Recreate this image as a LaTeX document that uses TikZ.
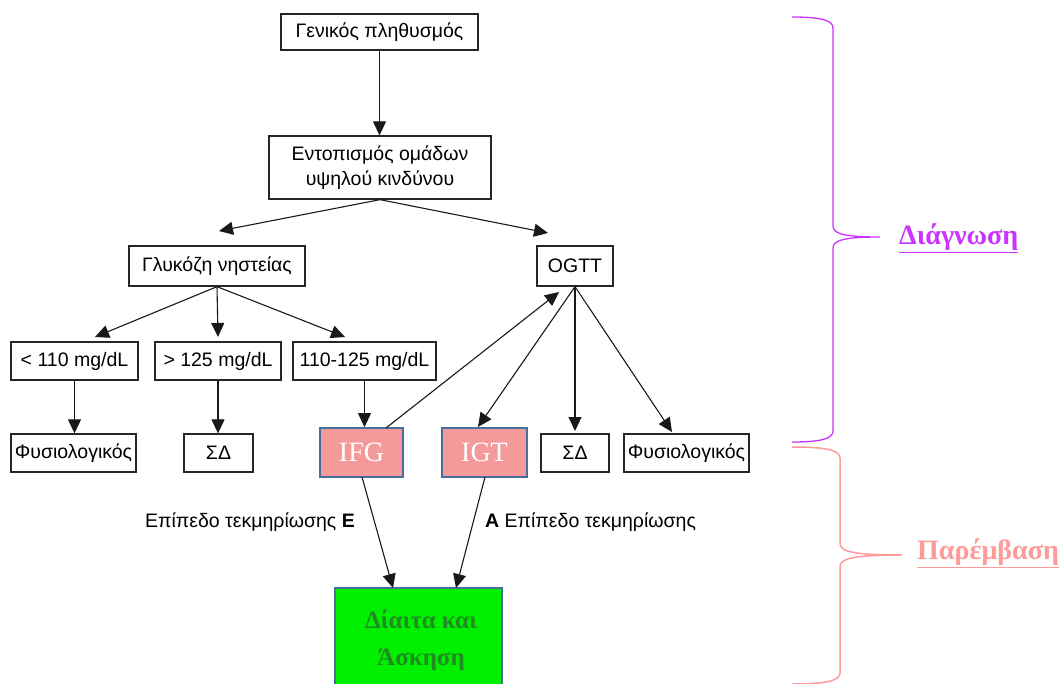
\documentclass[tikz,border=0pt]{standalone}
\usepackage{fontspec}
\setmainfont{Liberation Sans}
\newfontfamily\serifgr{Liberation Serif}
\usetikzlibrary{arrows.meta}
\definecolor{pinkfill}{HTML}{F59A9A}
\definecolor{edgeblue}{HTML}{4A6E9C}
\definecolor{greenfill}{HTML}{00F000}
\definecolor{greentext}{HTML}{1E8C1E}
\definecolor{purplebr}{HTML}{CC33FF}
\definecolor{pinkbr}{HTML}{FF9A9A}
\tikzset{
  box/.style={draw=black!85, line width=1.3pt, inner sep=0pt, align=center, font=\fontsize{19.5}{24}\selectfont},
  hl/.style={draw=edgeblue, line width=1.8pt, fill=pinkfill, inner sep=0pt, text=white, font=\serifgr\fontsize{28}{32}\selectfont},
  arr/.style={line width=1.1pt, black!90, -{Triangle[length=14pt,width=13pt]}},
  lbl/.style={inner sep=0pt, font=\fontsize{19.5}{24}\selectfont},
}
\begin{document}
\begin{tikzpicture}[x=1pt,y=-1pt]
\useasboundingbox (0,0) rectangle (1059,684);
\fill[white] (0,0) rectangle (1059,684);
% nodes
\node[box, minimum width=197, minimum height=36] (g) at (379.5,32) {Γενικός πληθυσμός};
\node[box, minimum width=222, minimum height=63] (e) at (380,167.5) {Εντοπισμός ομάδων\\[1pt]υψηλού κινδύνου};
\node[box, minimum width=176, minimum height=40] (gl) at (217,266) {Γλυκόζη νηστείας};
\node[box, minimum width=76, minimum height=40] (o) at (575,266) {OGTT};
\node[box, minimum width=127, minimum height=38] (r1) at (74.5,361) {< 110 mg/dL};
\node[box, minimum width=126, minimum height=38] (r2) at (218,361) {> 125 mg/dL};
\node[box, minimum width=143, minimum height=38] (r3) at (364.5,361) {110-125 mg/dL};
\node[box, minimum width=125, minimum height=38] (f1) at (73.5,453) {Φυσιολογικός};
\node[box, minimum width=69, minimum height=38] (s1) at (218.5,453) {ΣΔ};
\node[hl, minimum width=83, minimum height=49] (ifg) at (361.5,452.5) {IFG};
\node[hl, minimum width=85, minimum height=49] (igt) at (484.5,452.5) {IGT};
\node[box, minimum width=68, minimum height=38] (s2) at (575,453) {ΣΔ};
\node[box, minimum width=125, minimum height=38] (f2) at (686.5,453) {Φυσιολογικός};
\begin{scope}
\clip (0,0) rectangle (1059,684);
\node[draw=edgeblue, line width=1.8pt, fill=greenfill, minimum width=167, minimum height=110, inner sep=0pt] (d) at (418.5,643) {};
\end{scope}
\node[inner sep=0pt, align=center, text=greentext, font=\serifgr\bfseries\fontsize{25}{37}\selectfont] (dt) at (421,640) {Δίαιτα και\\Άσκηση};
\node[lbl, anchor=east] (le) at (355,522) {Επίπεδο τεκμηρίωσης \textbf{Ε}};
\node[lbl, anchor=west] (la) at (485,522) {\textbf{Α} Επίπεδο τεκμηρίωσης};
% coordinates for arrow tips
\coordinate (t1) at (219,231);
\coordinate (t2) at (548,233);
\coordinate (t3) at (95,337);
\coordinate (t4) at (218,337);
\coordinate (t5) at (345,337);
\coordinate (t6) at (559,292);
\coordinate (t7) at (478,427);
\coordinate (t8) at (575,431);
\coordinate (t9) at (672,432);
\coordinate (t10) at (393,588);
\coordinate (t11) at (456,588);
\coordinate (ifgtop) at (386,428);
\coordinate (ifgbot) at (362,477);
\coordinate (igtbot) at (485,477);
% arrows
\draw[arr] (g.south) -- (g.south |- e.north);
\draw[arr] (e.south) -- (t1);
\draw[arr] (e.south) -- (t2);
\draw[arr] (gl.south) -- (t3);
\draw[arr] (gl.south) -- (t4);
\draw[arr] (gl.south) -- (t5);
\draw[arr] (r1.south) -- (r1.south |- f1.north);
\draw[arr] (r2.south) -- (r2.south |- s1.north);
\draw[arr] (r3.south) -- (r3.south |- ifg.north);
\draw[arr] (ifgtop) -- (t6);
\draw[arr] (o.south) -- (t7);
\draw[arr] (o.south) -- (t8);
\draw[arr] (o.south) -- (t9);
\draw[arr] (ifgbot) -- (t10);
\draw[arr] (igtbot) -- (t11);
% braces
\draw[purplebr, line width=1.3pt] (792,17) .. controls (820,17) and (833,20) .. (833,28)
  -- (833,226) .. controls (833,234) and (845,237) .. (880,237)
  .. controls (845,237) and (833,240) .. (833,248)
  -- (833,431) .. controls (833,439) and (820,442) .. (792,442);
\node[inner sep=0pt, text=purplebr, font=\serifgr\bfseries\fontsize{28}{32}\selectfont, anchor=west] (dg) at (899,238) {\underline{Διάγνωση}};
\draw[pinkbr, line width=1.5pt] (792,447) .. controls (825,447) and (840,450) .. (840,458)
  -- (840,543) .. controls (840,551) and (850,555) .. (902,555)
  .. controls (850,555) and (840,559) .. (840,567)
  -- (840,673) .. controls (840,681) and (825,684) .. (792,684);
\node[inner sep=0pt, text=pinkbr, font=\serifgr\bfseries\fontsize{28}{32}\selectfont, anchor=west] (pm) at (917,553) {\underline{Παρέμβαση}};
\end{tikzpicture}
\end{document}
